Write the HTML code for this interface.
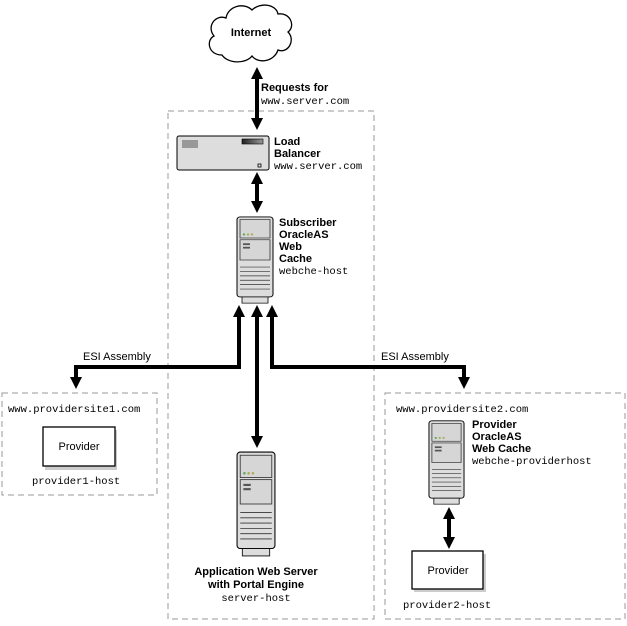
<!DOCTYPE html>
<html><head><style>
body{margin:0;background:#fff}
svg text{font-family:"Liberation Sans",sans-serif;font-size:11px}
.b{font-weight:bold}
.m{font-family:"Liberation Mono",monospace;font-size:10.5px}
</style></head><body>
<svg width="627" height="621" viewBox="0 0 627 621" xmlns="http://www.w3.org/2000/svg">
<defs>
<linearGradient id="g" x1="0" x2="1"><stop offset="0" stop-color="#222"/><stop offset="1" stop-color="#999"/></linearGradient>
<symbol id="srv" viewBox="0 0 38 100" preserveAspectRatio="none">
<rect x="1" y="1" width="36" height="91" rx="3" fill="#ddd" stroke="#000" stroke-width="1"/>
<rect x="4" y="4" width="30" height="21" fill="#d6d6d6" stroke="#333" stroke-width=".8"/>
<circle cx="8" cy="21" r="1.2" fill="#5a5"/><circle cx="12" cy="21" r="1.2" fill="#aa5"/><circle cx="16" cy="21" r="1.2" fill="#aa5"/>
<rect x="4" y="27" width="30" height="23" fill="#d6d6d6" stroke="#333" stroke-width=".8"/>
<rect x="7" y="31" width="7" height="2" fill="#555"/><rect x="7" y="35" width="7" height="2" fill="#555"/>
<g stroke="#333" stroke-width=".8"><line x1="4" y1="58" x2="34" y2="58"/><line x1="4" y1="63" x2="34" y2="63"/><line x1="4" y1="68" x2="34" y2="68"/><line x1="4" y1="73" x2="34" y2="73"/><line x1="4" y1="78" x2="34" y2="78"/><line x1="4" y1="83" x2="34" y2="83"/></g>
<rect x="6" y="92" width="26" height="7" fill="#ddd" stroke="#000" stroke-width=".8"/>
</symbol>
</defs>
<g fill="none" stroke="#999" stroke-dasharray="6,4" stroke-width="1">
<rect x="168" y="111" width="206" height="508"/>
<rect x="2" y="393" width="155" height="102"/>
<rect x="385" y="393" width="240" height="226"/>
</g>
<path d="M222,55 C208,55 206,40 214,36 C206,26 216,14 226,18 C228,6 244,2 252,10 C260,2 276,4 278,14 C290,12 296,26 288,32 C296,40 288,54 278,50 C274,62 258,64 252,56 C246,64 228,64 222,55z" fill="#fff" stroke="#000" stroke-width="1.3"/>
<text x="251" y="36" class="b" text-anchor="middle">Internet</text>
<g stroke="#000" stroke-width="4" fill="none">
<line x1="257" y1="76" x2="257" y2="122"/>
<line x1="257" y1="181" x2="257" y2="205"/>
<line x1="257" y1="314" x2="257" y2="440"/>
<line x1="449" y1="516" x2="449" y2="540"/>
<polyline points="239,314 239,367 76,367 76,380"/>
<polyline points="272,314 272,367 464,367 464,380"/>
</g>
<g fill="#000">
<path d="M257,67 l-6,12 h12z"/><path d="M257,130 l-6,-12 h12z"/>
<path d="M257,172 l-6,12 h12z"/><path d="M257,213 l-6,-12 h12z"/>
<path d="M239,305 l-6,12 h12z"/><path d="M257,305 l-6,12 h12z"/><path d="M272,305 l-6,12 h12z"/>
<path d="M257,448 l-6,-12 h12z"/>
<path d="M76,389 l-6,-12 h12z"/><path d="M464,389 l-6,-12 h12z"/>
<path d="M449,507 l-6,12 h12z"/><path d="M449,549 l-6,-12 h12z"/>
</g>
<text x="261" y="91" class="b">Requests for</text>
<text x="261" y="104" class="m">www.server.com</text>
<rect x="177" y="136" width="92" height="34" rx="2" fill="#ddd" stroke="#000"/>
<g stroke="#333" stroke-width=".8"><line x1="183" y1="140" x2="183" y2="148"/><line x1="185" y1="140" x2="185" y2="148"/><line x1="187" y1="140" x2="187" y2="148"/><line x1="189" y1="140" x2="189" y2="148"/><line x1="191" y1="140" x2="191" y2="148"/><line x1="193" y1="140" x2="193" y2="148"/><line x1="195" y1="140" x2="195" y2="148"/><line x1="197" y1="140" x2="197" y2="148"/></g>
<rect x="242" y="139" width="21" height="5" fill="url(#g)" stroke="#000" stroke-width=".6"/>
<rect x="258" y="164" width="3" height="3" fill="none" stroke="#000" stroke-width=".8"/>
<text x="274" y="145" class="b">Load</text>
<text x="274" y="157" class="b">Balancer</text>
<text x="274" y="169" class="m">www.server.com</text>
<use href="#srv" x="236" y="216" width="38" height="88"/>
<text x="279" y="226" class="b">Subscriber</text>
<text x="279" y="238" class="b">OracleAS</text>
<text x="279" y="250" class="b">Web</text>
<text x="279" y="262" class="b">Cache</text>
<text x="279" y="274" class="m">webche-host</text>
<text x="83" y="360">ESI Assembly</text>
<text x="381" y="360">ESI Assembly</text>
<text x="8" y="412" class="m">www.providersite1.com</text>
<rect x="45" y="430" width="72" height="40" fill="#ccc"/>
<rect x="43" y="427" width="72" height="39" fill="#fff" stroke="#000" stroke-width="1.3"/>
<text x="79" y="450" text-anchor="middle">Provider</text>
<text x="32" y="484" class="m">provider1-host</text>
<use href="#srv" x="236" y="451" width="40" height="106"/>
<text x="256" y="575" class="b" text-anchor="middle">Application Web Server</text>
<text x="256" y="588" class="b" text-anchor="middle">with Portal Engine</text>
<text x="256" y="601" class="m" text-anchor="middle">server-host</text>
<text x="396" y="412" class="m">www.providersite2.com</text>
<use href="#srv" x="428" y="420" width="37" height="85"/>
<text x="472" y="428" class="b">Provider</text>
<text x="472" y="440" class="b">OracleAS</text>
<text x="472" y="452" class="b">Web Cache</text>
<text x="472" y="464" class="m">webche-providerhost</text>
<rect x="414" y="554" width="72" height="38" fill="#ccc"/>
<rect x="412" y="551" width="71" height="38" fill="#fff" stroke="#000" stroke-width="1.3"/>
<text x="448" y="574" text-anchor="middle">Provider</text>
<text x="403" y="608" class="m">provider2-host</text>
</svg>
</body></html>
